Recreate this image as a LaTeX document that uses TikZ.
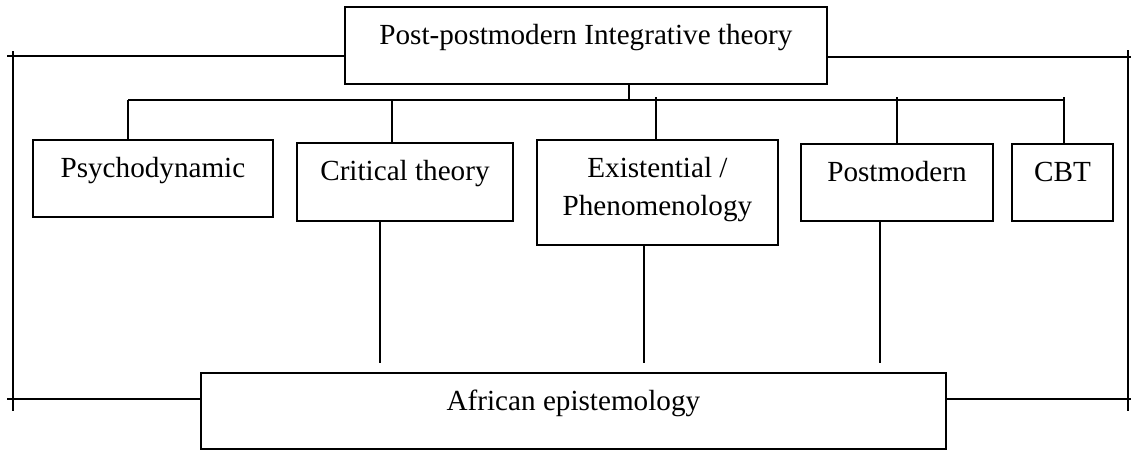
\documentclass[tikz,border=0pt]{standalone}
\usepackage{fontspec}
\setmainfont{Liberation Serif}
\tikzset{theory/.style={draw, line width=1.1pt, anchor=north west, inner sep=0pt, text height=0.76cm, text depth=0.79cm},
  wire/.style={line width=1.1pt}}
\begin{document}
\begin{tikzpicture}[x=0.02cm, y=-0.02cm, font=\fontsize{16.6}{21.6}\selectfont]
\useasboundingbox (0,0) rectangle (1132,450);
\node[theory, minimum width=9.64cm] (pit) at (344,6) {Post-postmodern Integrative theory};
\node[theory, minimum width=4.8cm] (psy) at (32,139) {Psychodynamic};
\node[theory, minimum width=4.32cm, text depth=0.8cm] (crit) at (296,142) {Critical theory};
\node[theory, minimum width=4.82cm, text depth=1.34cm] (exist) at (536,139) {\begin{tabular}[t]{@{}c@{}}Existential /\\Phenomenology\end{tabular}};
\node[theory, minimum width=3.84cm, text depth=0.78cm] (post) at (800,143) {Postmodern};
\node[theory, minimum width=2.02cm, text depth=0.78cm] (cbt) at (1011,143) {CBT};
\node[theory, minimum width=14.9cm, text depth=0.77cm] (afr) at (200,372) {African epistemology};
% branch under the top box
\coordinate (b0) at (629,100);
\coordinate (b1) at (128,100);
\coordinate (b2) at (392,100);
\coordinate (b3) at (656,97);
\coordinate (b4) at (897,97);
\coordinate (b5) at (1064,97);
\draw[wire] (pit.south -| b0) -- (b0);
\draw[wire] (b1) -- (b5 |- b1);
\draw[wire] (b1) -- (b1 |- psy.north);
\draw[wire] (b2) -- (b2 |- crit.north);
\draw[wire] (b3) -- (b3 |- exist.north);
\draw[wire] (b4) -- (b4 |- post.north);
\draw[wire] (b5) -- (b5 |- cbt.north);
% lines down towards the bottom box
\coordinate (d1) at (380,363);
\coordinate (d2) at (644,363);
\coordinate (d3) at (880,363);
\draw[wire] (d1 |- crit.south) -- (d1);
\draw[wire] (d2 |- exist.south) -- (d2);
\draw[wire] (d3 |- post.south) -- (d3);
% frame round both sides
\coordinate (lt) at (7,56);
\coordinate (lb) at (7,399);
\coordinate (rt) at (1131,57);
\coordinate (rb) at (1131,399);
\draw[wire] (pit.west |- lt) -- (lt);
\draw[wire] (afr.west |- lb) -- (lb);
\draw[wire] (13,51) -- (13,411);
\draw[wire] (pit.east |- rt) -- (rt);
\draw[wire] (afr.east |- rb) -- (rb);
\draw[wire] (1128,50) -- (1128,411);
\end{tikzpicture}
\end{document}
